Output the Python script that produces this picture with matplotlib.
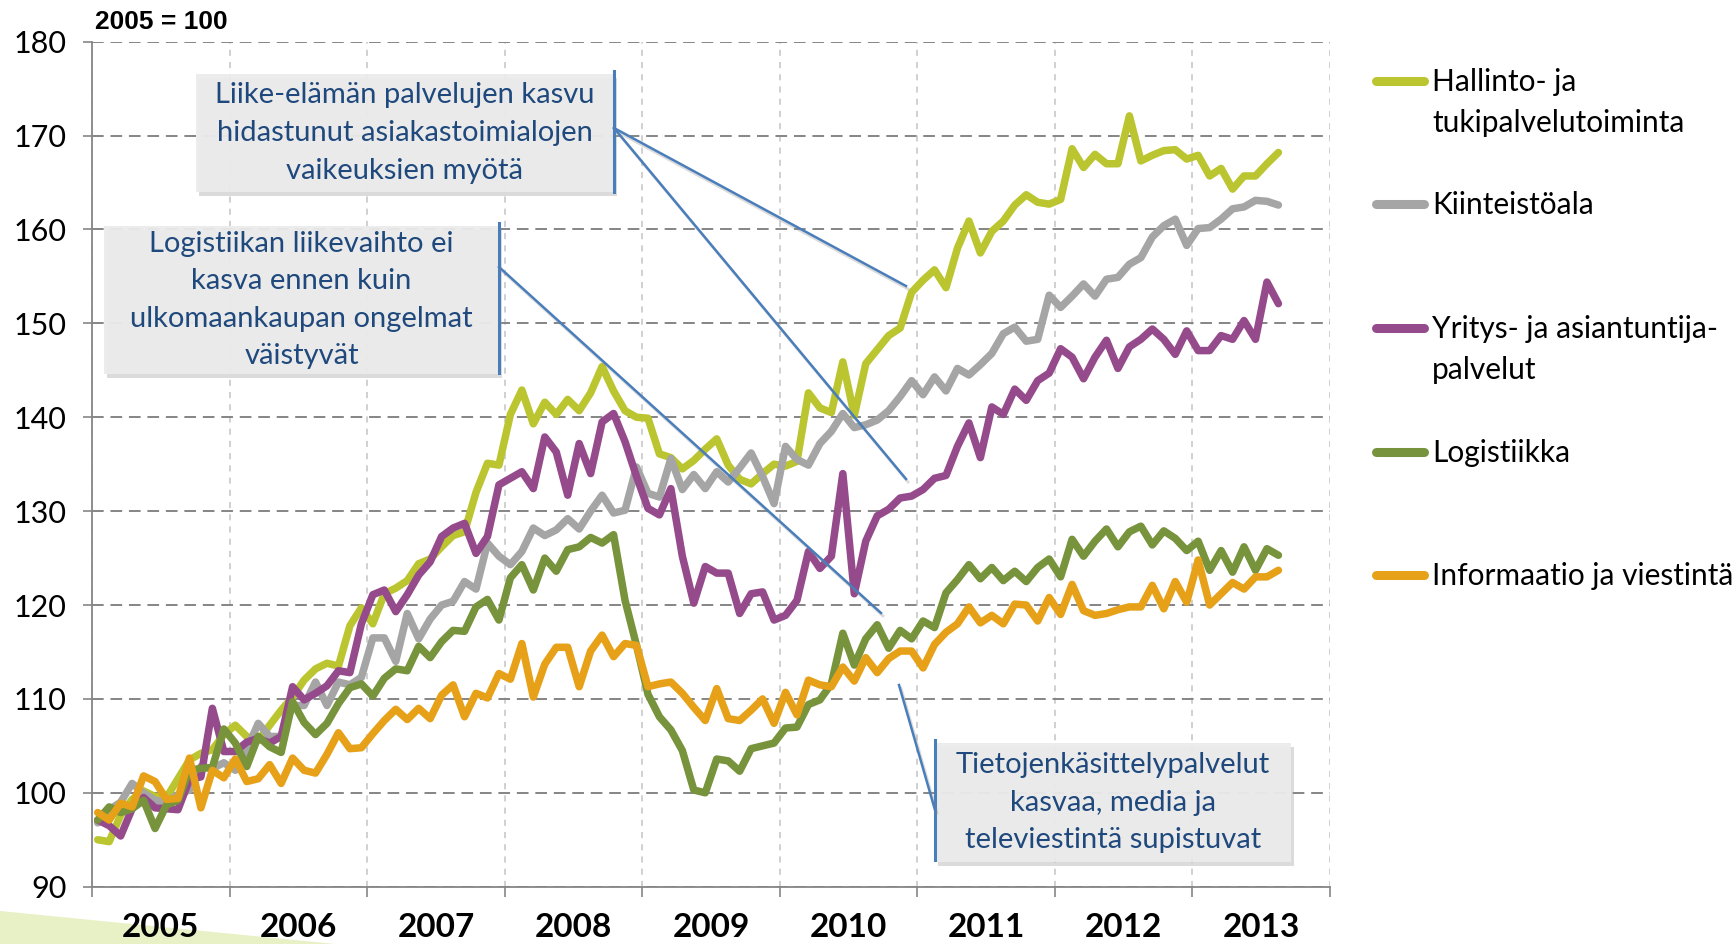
import matplotlib
matplotlib.use('Agg')
import matplotlib.pyplot as plt
import matplotlib.transforms as mtransforms
from matplotlib.lines import Line2D
from matplotlib.patches import Rectangle, Polygon
from matplotlib.ticker import FixedLocator, NullFormatter
import numpy as np

plt.rcParams['font.family'] = ['Lato', 'DejaVu Sans']

# Liikevaihdon trendi kuukausittain 2005/01 - 2013/08, 2005 = 100
hallinto = [95.0, 94.8, 97.6, 99.3, 100.2, 99.6, 99.5, 101.5, 103.5, 104.2, 104.6, 106.2,
            107.2, 106.0, 105.6, 107.2, 108.8, 110.2, 112.0, 113.2, 113.8, 113.5, 117.8, 119.7,
            118.0, 121.2, 121.8, 122.6, 124.4, 124.9, 126.2, 127.4, 127.8, 132.0, 135.1, 134.9,
            140.3, 142.9, 139.3, 141.6, 140.3, 141.9, 140.7, 142.6, 145.4, 142.8, 140.7, 140.0,
            139.9, 136.1, 135.7, 134.5, 135.4, 136.6, 137.7, 134.9, 133.4, 132.9, 134.0, 135.0,
            134.8, 135.3, 142.6, 141.0, 140.5, 145.9, 140.2, 145.7, 147.2, 148.7, 149.5, 153.3,
            154.6, 155.7, 153.8, 158.0, 160.9, 157.5, 159.8, 160.9, 162.6, 163.7, 162.9, 162.7,
            163.2, 168.6, 166.6, 168.0, 167.0, 167.0, 172.1, 167.3, 167.9, 168.4, 168.5, 167.5,
            167.9, 165.7, 166.5, 164.3, 165.7, 165.7, 167.0, 168.2]
kiinteisto = [96.8, 98.2, 99.0, 101.0, 100.0, 99.2, 99.0, 99.8, 100.3, 102.8, 102.6, 103.2,
              102.4, 104.6, 107.4, 106.0, 106.0, 109.3, 109.3, 111.8, 109.3, 111.8, 111.5, 112.3,
              116.5, 116.5, 114.0, 119.1, 116.4, 118.5, 120.0, 120.4, 122.5, 121.7, 126.6, 125.2,
              124.3, 125.7, 128.2, 127.4, 128.0, 129.2, 128.1, 130.0, 131.7, 129.8, 130.1, 134.7,
              131.9, 131.5, 135.6, 132.3, 133.9, 132.4, 134.2, 133.1, 134.6, 136.2, 133.7, 130.8,
              136.9, 135.5, 134.9, 137.2, 138.5, 140.4, 138.9, 139.2, 139.7, 140.7, 142.2, 143.9,
              142.4, 144.3, 142.8, 145.2, 144.5, 145.6, 146.8, 148.9, 149.6, 148.1, 148.3, 153.0,
              151.7, 152.9, 154.2, 152.9, 154.7, 154.9, 156.3, 157.0, 159.2, 160.4, 161.1, 158.3,
              160.1, 160.2, 161.1, 162.2, 162.4, 163.1, 163.0, 162.6]
yritys = [97.1, 96.5, 95.4, 98.3, 99.5, 98.4, 98.3, 98.2, 101.4, 101.7, 109.0, 104.4,
          104.4, 105.4, 105.8, 105.3, 106.0, 111.3, 109.9, 110.6, 111.4, 113.0, 112.8, 118.0,
          121.1, 121.6, 119.3, 121.1, 123.2, 124.6, 127.3, 128.2, 128.7, 125.5, 127.3, 132.8,
          133.5, 134.2, 132.4, 137.9, 136.3, 131.7, 137.2, 134.0, 139.5, 140.4, 137.4, 133.7,
          130.3, 129.6, 132.4, 125.2, 120.2, 124.1, 123.4, 123.4, 119.1, 121.2, 121.4, 118.4,
          118.9, 120.5, 125.7, 123.9, 125.2, 134.0, 121.2, 126.8, 129.5, 130.2, 131.4, 131.6,
          132.3, 133.5, 133.8, 136.9, 139.4, 135.7, 141.1, 140.3, 143.0, 141.8, 143.9, 144.7,
          147.3, 146.4, 144.1, 146.4, 148.2, 145.2, 147.5, 148.3, 149.4, 148.3, 146.7, 149.2,
          147.1, 147.1, 148.7, 148.3, 150.3, 148.3, 154.4, 152.1]
logistiikka = [97.1, 98.5, 97.9, 98.3, 99.2, 96.2, 98.7, 99.2, 102.4, 102.6, 102.7, 106.8,
               105.3, 102.8, 106.0, 104.9, 104.3, 109.7, 107.5, 106.2, 107.4, 109.5, 111.2, 111.6,
               110.3, 112.2, 113.2, 113.0, 115.6, 114.4, 116.1, 117.3, 117.2, 119.8, 120.6, 118.4,
               122.9, 124.3, 121.6, 125.0, 123.6, 125.9, 126.2, 127.2, 126.6, 127.5, 120.5, 115.7,
               110.5, 108.1, 106.7, 104.5, 100.3, 100.0, 103.6, 103.4, 102.3, 104.7, 105.0, 105.3,
               106.9, 107.0, 109.4, 109.9, 111.6, 117.0, 113.6, 116.4, 117.9, 115.4, 117.3, 116.4,
               118.3, 117.6, 121.3, 122.7, 124.3, 122.8, 124.0, 122.6, 123.6, 122.5, 124.0, 124.9,
               123.0, 127.0, 125.2, 126.8, 128.1, 126.2, 127.8, 128.4, 126.4, 127.9, 127.1, 125.8,
               126.8, 123.7, 125.8, 123.5, 126.2, 123.7, 126.0, 125.3]
informaatio = [97.9, 97.1, 98.9, 98.5, 101.8, 101.2, 99.3, 99.4, 103.7, 98.4, 102.4, 101.6,
               103.6, 101.2, 101.5, 103.0, 101.0, 103.7, 102.4, 102.1, 104.1, 106.4, 104.7, 104.8,
               106.3, 107.7, 108.9, 107.8, 109.0, 107.9, 110.4, 111.5, 108.1, 110.6, 110.1, 112.7,
               112.1, 115.9, 110.2, 113.7, 115.5, 115.5, 111.3, 115.1, 116.8, 114.5, 115.9, 115.7,
               111.3, 111.6, 111.8, 110.6, 109.1, 107.7, 111.1, 107.9, 107.7, 108.8, 110.0, 107.4,
               110.7, 108.3, 112.0, 111.5, 111.3, 113.4, 111.9, 114.4, 112.8, 114.3, 115.1, 115.1,
               113.3, 115.8, 117.1, 118.0, 119.8, 118.1, 118.9, 118.0, 120.1, 120.0, 118.3, 120.8,
               119.0, 122.2, 119.4, 118.9, 119.1, 119.5, 119.8, 119.8, 122.1, 119.6, 122.5, 120.3,
               124.8, 120.0, 121.2, 122.4, 121.7, 123.0, 123.0, 123.7]

vuodet = ['2005', '2006', '2007', '2008', '2009', '2010', '2011', '2012', '2013']
nimet = ['Hallinto- ja\ntukipalvelutoiminta', 'Kiinteistöala',
         'Yritys- ja asiantuntija-\npalvelut', 'Logistiikka', 'Informaatio ja viestintä']
sarjat = [hallinto, kiinteisto, yritys, logistiikka, informaatio]
varit = ['#bac530', '#a5a5a5', '#954a8c', '#77933c', '#e6a118']

W, H = 1736, 944
fig = plt.figure(figsize=(W / 100, H / 100), dpi=100)
# pikselikoordinaatit (vasen yläkulma = 0,0)
pix = mtransforms.Affine2D().scale(1 / W, -1 / H).translate(0, 1) + fig.transFigure

# vaaleanvihreä kaista vasemmassa alakulmassa
fig.add_artist(Polygon([(0, 911), (335, 944), (0, 944)], closed=True, transform=pix,
                       facecolor='#e8f0c6', edgecolor='none', zorder=-1))

ax = fig.add_axes([92 / W, 1 - 886.7 / H, (1330 - 92) / W, (886.7 - 41.7) / H])
ax.patch.set_alpha(0)

for i, (arvot, vari) in enumerate(zip(sarjat, varit)):
    x = np.arange(len(arvot)) + 0.5
    ax.plot(x, arvot, color=vari, lw=5.4, solid_joinstyle='round', solid_capstyle='round',
            zorder=2 + i)

ax.set_xlim(0, 12 * len(vuodet))
ax.set_ylim(90, 180)
ax.set_yticks(np.arange(90, 181, 10))
ax.xaxis.set_major_locator(FixedLocator(np.arange(0, 12 * len(vuodet) + 1, 12)))
ax.xaxis.set_major_formatter(NullFormatter())
ax.xaxis.set_minor_locator(FixedLocator(np.arange(6, 12 * len(vuodet), 12)))
ax.set_xticklabels(vuodet, minor=True)

ax.tick_params(axis='y', length=6.5, width=1.2, color='#868686', pad=12, labelsize=22)
ax.tick_params(axis='x', which='major', length=7, width=1.2, color='#868686')
ax.tick_params(axis='x', which='minor', length=0, pad=19, labelsize=24)
for t in ax.get_xticklabels(minor=True):
    t.set_fontweight('bold')

ax.grid(axis='y', color='#858585', linestyle=(0, (6, 3.5)), lw=1.4, zorder=0)
ax.grid(axis='x', which='major', color='#c4c4c4', linestyle=(0, (4, 4)), lw=1.1, zorder=0)
for s in ['top', 'right']:
    ax.spines[s].set_visible(False)
for s in ['left', 'bottom']:
    ax.spines[s].set_color('#868686')
    ax.spines[s].set_linewidth(1.3)

fig.text(95 / W, 1 - 22 / H, '2005 = 100', fontsize=19, fontweight='bold',
         family=['Liberation Sans', 'DejaVu Sans'], va='center', ha='left')

# selite
selite_y = [81, 204, 328, 452, 575]
for nimi, vari, y in zip(nimet, varit, selite_y):
    fig.add_artist(Line2D([1376, 1424], [y, y], transform=pix, color=vari, lw=6.5,
                          solid_capstyle='round'))
    fig.text(1432 / W, 1 - (y - 13) / H, nimi, fontsize=21.5, va='top', ha='left',
             linespacing=1.55)

# huomiolaatikot
sininen = '#4a7ebb'


def laatikko(x0, y0, x1, y1, teksti, palkki_x, palkki_y, alku, loput):
    fig.add_artist(Rectangle((x0 + 3, y0 + 4), x1 - x0, y1 - y0, transform=pix,
                             facecolor='#9a9a9a', alpha=0.35, edgecolor='none', zorder=8))
    fig.add_artist(Rectangle((x0, y0), x1 - x0, y1 - y0, transform=pix,
                             facecolor='#ebebeb', alpha=0.95, edgecolor='none', zorder=9))
    fig.text(((x0 + x1) / 2) / W, 1 - ((y0 + y1) / 2) / H, teksti, color='#1f497d',
             fontsize=21, ha='center', va='center', linespacing=1.55, zorder=10)
    fig.add_artist(Line2D([palkki_x, palkki_x], palkki_y, transform=pix, color=sininen,
                          lw=2.2, zorder=10))
    for loppu in loput:
        fig.add_artist(Line2D([alku[0] + 2, loppu[0] + 2], [alku[1] + 3, loppu[1] + 3],
                              transform=pix, color='#888888', alpha=0.3, lw=2, zorder=10))
        fig.add_artist(Line2D([alku[0], loppu[0]], [alku[1], loppu[1]], transform=pix,
                              color=sininen, lw=1.8, zorder=11))


laatikko(196, 74, 614, 192,
         'Liike-elämän palvelujen kasvu\nhidastunut asiakastoimialojen\nvaikeuksien myötä',
         614, (71, 192), (614, 128), [(906, 286), (906, 479)])
laatikko(104, 226, 499, 374,
         'Logistiikan liikevaihto ei\nkasva ennen kuin\nulkomaankaupan ongelmat\nväistyvät',
         499, (223, 373), (499, 267), [(881, 613)])
laatikko(935, 743, 1291, 862,
         'Tietojenkäsittelypalvelut\nkasvaa, media ja\nteleviestintä supistuvat',
         935, (740, 860), (935, 810), [(899, 685)])

plt.savefig('out.png', dpi=100)
